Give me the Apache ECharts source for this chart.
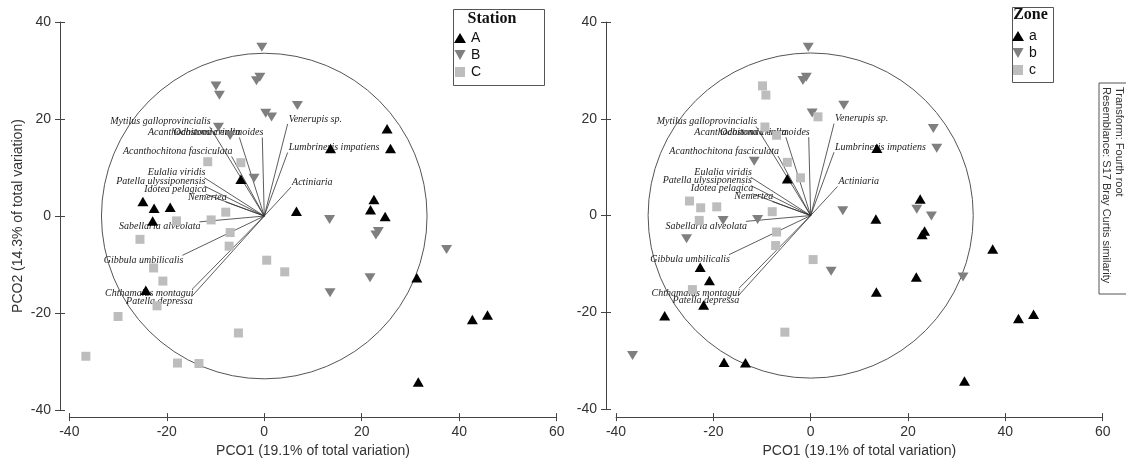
<!DOCTYPE html>
<html>
<head>
<meta charset="utf-8">
<title>PCO ordination</title>
<script src="https://cdn.jsdelivr.net/npm/echarts@6/dist/echarts.min.js"></script>
<style>
    html, body { margin: 0; padding: 0; background: #fff; }
    #main { width: 1126px; height: 463px; }
</style>
</head>
<body>
<div id="main"></div>
<script>
// PCO scores, one per sample (both panels show the same ordination)
var pco1 = [
    25.2, 25.9, 13.6, 22.5, 21.8, 24.8, 6.6, -4.8, -24.9, -22.6, -19.3, -22.9, -24.3, 31.3, 42.7, 45.8, 31.6,
    -0.5, -9.9, -9.2, -1.6, -0.9, 0.3, 1.5, 6.8, -9.4, -7.0, -2.1, 13.4, 23.4, 22.9, 37.4, 21.7, 13.5,
    -11.6, -4.8, -7.9, -18.0, -10.9, -25.5, -7.0, -7.2, -22.7, -20.8, 0.5, 4.2, -22.0, -30.0, -5.3, -36.6, -17.8, -13.4
];
var pco2 = [
    18.0, 13.9, 13.9, 3.4, 1.3, -0.1, 1.0, 7.6, 3.0, 1.6, 1.8, -1.0, -15.3, -12.7, -21.3, -20.4, -34.2,
    34.8, 26.8, 24.9, 27.9, 28.6, 21.2, 20.4, 22.8, 18.3, 16.6, 7.8, -0.7, -3.2, -3.9, -6.9, -12.7, -15.8,
    11.2, 11.0, 0.8, -1.0, -0.8, -4.8, -3.4, -6.2, -10.7, -13.4, -9.1, -11.5, -18.5, -20.7, -24.1, -28.9, -30.3, -30.4
];
var station = [
    'A','A','A','A','A','A','A','A','A','A','A','A','A','A','A','A','A',
    'B','B','B','B','B','B','B','B','B','B','B','B','B','B','B','B','B',
    'C','C','C','C','C','C','C','C','C','C','C','C','C','C','C','C','C','C'
];
var zone = [
    'b','b','a','a','b','b','b','a','c','c','c','c','c','b','a','a','a',
    'b','c','c','b','b','b','c','b','c','c','c','a','a','a','a','a','a',
    'b','c','c','b','b','b','c','c','a','a','c','b','a','a','c','b','a','a'
];

// species vectors (Pearson correlation overlay)
var vectorNames = [
    'Mytilus galloprovincialis', 'Odostomia eulimoides', 'Acanthochitona crinita',
    'Acanthochitona fasciculata', 'Eulalia viridis', 'Patella ulyssiponensis',
    'Idotea pelagica', 'Nemertea', 'Sabellaria alveolata', 'Gibbula umbilicalis',
    'Chthamalus montagui', 'Patella depressa', 'Venerupis sp.',
    'Lumbrineris impatiens', 'Actiniaria'
];
var vectorX = [-11.2, -0.4, -5.1, -6.7, -12.3, -12.3, -12.0, -7.9, -13.3, -16.8, -14.7, -14.9, 4.8, 4.8, 5.5];
var vectorY = [18.4, 16.2, 16.2, 12.3, 7.9, 6.2, 4.5, 2.9, -1.2, -8.1, -15.0, -16.6, 19.0, 13.1, 6.0];
var circleRadius = 33.4;

var xMin = -40, xMax = 60, xStep = 20;
var yMin = -40, yMax = 40, yStep = 20;
var xName = 'PCO1 (19.1% of total variation)';
var yName = 'PCO2 (14.3% of total variation)';

var stationGroups = ['A', 'B', 'C'];
var zoneGroups = ['a', 'b', 'c'];

var downTri = 'path://M0,0L10,0L5,9Z';
var groupStyle = [
    { symbol: 'triangle', size: [11, 9.5], color: '#000000' },
    { symbol: downTri, size: [11, 9], color: '#7f7f7f' },
    { symbol: 'rect', size: 9, color: '#bdbdbd' }
];

var axisColor = '#444';
var sans = '"Liberation Sans", Arial, sans-serif';
var serif = '"Liberation Serif", "Times New Roman", serif';

function xAxes(gi, off) {
    var base = {
        gridIndex: gi, type: 'value', min: xMin, max: xMax, interval: xStep,
        position: 'bottom', offset: off, splitLine: { show: false }
    };
    var main = Object.assign({}, base, {
        axisLine: { show: true, onZero: false, lineStyle: { color: axisColor } },
        axisTick: { show: true, length: 4, lineStyle: { color: axisColor } },
        axisLabel: { color: '#333', fontSize: 14, fontFamily: sans, margin: 8 },
        name: xName, nameLocation: 'middle', nameGap: 25,
        nameTextStyle: { color: '#333', fontSize: 14, fontFamily: sans }
    });
    var inner = Object.assign({}, base, {
        axisLine: { show: false, onZero: false },
        axisTick: { show: true, inside: true, length: 4, lineStyle: { color: axisColor } },
        axisLabel: { show: false }
    });
    return [main, inner];
}

function yAxes(gi, off, withName) {
    var base = {
        gridIndex: gi, type: 'value', min: yMin, max: yMax, interval: yStep,
        position: 'left', offset: off, splitLine: { show: false }
    };
    var main = Object.assign({}, base, {
        axisLine: { show: true, onZero: false, lineStyle: { color: axisColor } },
        axisTick: { show: true, length: 5, lineStyle: { color: axisColor } },
        axisLabel: { color: '#333', fontSize: 14, fontFamily: sans, margin: 9 }
    });
    if (withName) {
        main.name = yName;
        main.nameLocation = 'middle';
        main.nameGap = 35;
        main.nameTextStyle = { color: '#333', fontSize: 14, fontFamily: sans };
    }
    var inner = Object.assign({}, base, {
        axisLine: { show: false, onZero: false },
        axisTick: { show: true, inside: true, length: 5, lineStyle: { color: axisColor } },
        axisLabel: { show: false }
    });
    return [main, inner];
}

function circleSeries(axisIdx) {
    return {
        type: 'custom', xAxisIndex: axisIdx, yAxisIndex: axisIdx, silent: true, z: 1,
        clip: false,
        data: [[0, 0]],
        renderItem: function (params, api) {
            var c = api.coord([api.value(0), api.value(1)]);
            var r = api.size([circleRadius, 0])[0];
            return {
                type: 'circle',
                shape: { cx: c[0], cy: c[1], r: r },
                style: { fill: 'none', stroke: '#555', lineWidth: 1 }
            };
        }
    };
}

function vectorSeries(axisIdx) {
    var data = vectorX.map(function (x, i) { return [x, vectorY[i]]; });
    return {
        type: 'custom', xAxisIndex: axisIdx, yAxisIndex: axisIdx, silent: true, z: 2,
        clip: false,
        data: data,
        renderItem: function (params, api) {
            var vx = api.value(0), vy = api.value(1);
            var p0 = api.coord([0, 0]);
            var p1 = api.coord([vx, vy]);
            return {
                type: 'group',
                children: [{
                    type: 'line',
                    shape: { x1: p0[0], y1: p0[1], x2: p1[0], y2: p1[1] },
                    style: { stroke: '#333', lineWidth: 0.8 }
                }, {
                    type: 'text',
                    x: p1[0] + (vx < 0 ? 1 : 1), y: p1[1],
                    style: {
                        text: vectorNames[params.dataIndex],
                        align: vx < 0 ? 'right' : 'left',
                        verticalAlign: vy > 0 ? 'bottom' : 'top',
                        font: 'italic 10px ' + serif,
                        fill: '#222'
                    }
                }]
            };
        }
    };
}

function groupSeries(groups, labels, axisIdx) {
    return groups.map(function (g, k) {
        var pts = [];
        for (var i = 0; i < labels.length; i++) {
            if (labels[i] === g) pts.push([pco1[i], pco2[i]]);
        }
        var st = groupStyle[k];
        return {
            name: g, type: 'scatter', xAxisIndex: axisIdx, yAxisIndex: axisIdx,
            symbol: st.symbol, symbolSize: st.size, symbolKeepAspect: false,
            itemStyle: { color: st.color, opacity: 1 },
            z: 5,
            data: pts
        };
    });
}

function legendFor(groups, left, top) {
    return {
        orient: 'vertical', left: left, top: top,
        itemWidth: 12, itemHeight: 10, itemGap: 3, padding: 0,
        selectedMode: false,
        textStyle: { color: '#111', fontSize: 14, fontFamily: sans, padding: [0, 0, 0, 0] },
        data: groups.map(function (g, k) {
            return { name: g, icon: groupStyle[k].symbol === 'rect' ? 'path://M0,0L9,0L9,9L0,9Z' : groupStyle[k].symbol };
        })
    };
}

var chart = echarts.init(document.getElementById('main'), null, { renderer: 'canvas' });

var option = {
    animation: false,
    backgroundColor: '#ffffff',
    grid: [
        { left: 69.3, right: 569.3, top: 22, bottom: 50 },
        { left: 616, right: 23.3, top: 22, bottom: 50 }
    ],
    xAxis: xAxes(0, 7).concat(xAxes(1, 8)),
    yAxis: yAxes(0, 9.3, true).concat(yAxes(1, 10, false)),
    legend: [legendFor(stationGroups, 454, 31), legendFor(zoneGroups, 1012, 29)],
    graphic: [
        { type: 'rect', left: 451, top: 7, shape: { width: 91, height: 76 },
          style: { fill: 'none', stroke: '#555', lineWidth: 1 }, z: 0, silent: true },
        { type: 'text', x: 492, y: 19, style: { text: 'Station', font: 'bold 16px ' + serif,
          fill: '#111', align: 'center', verticalAlign: 'middle' }, silent: true },
        { type: 'rect', left: 1010, top: 5, shape: { width: 41, height: 75 },
          style: { fill: 'none', stroke: '#555', lineWidth: 1 }, z: 0, silent: true },
        { type: 'text', x: 1030.5, y: 15, style: { text: 'Zone', font: 'bold 16px ' + serif,
          fill: '#111', align: 'center', verticalAlign: 'middle' }, silent: true },
        { type: 'rect', shape: { x: 1099, y: 83, width: 40, height: 211 },
          style: { fill: 'none', stroke: '#555', lineWidth: 1 }, silent: true },
        { type: 'text', x: 1126, y: 87, rotation: -Math.PI / 2,
          style: { text: 'Transform: Fourth root\nResemblance: S17 Bray Curtis similarity',
                   font: '11px ' + sans, fill: '#333', align: 'left', verticalAlign: 'top',
                   lineHeight: 13.5 }, silent: true }
    ],
    series: [circleSeries(0), vectorSeries(0)]
        .concat(groupSeries(stationGroups, station, 0))
        .concat([circleSeries(2), vectorSeries(2)])
        .concat(groupSeries(zoneGroups, zone, 2))
};

chart.setOption(option);
</script>
</body>
</html>
